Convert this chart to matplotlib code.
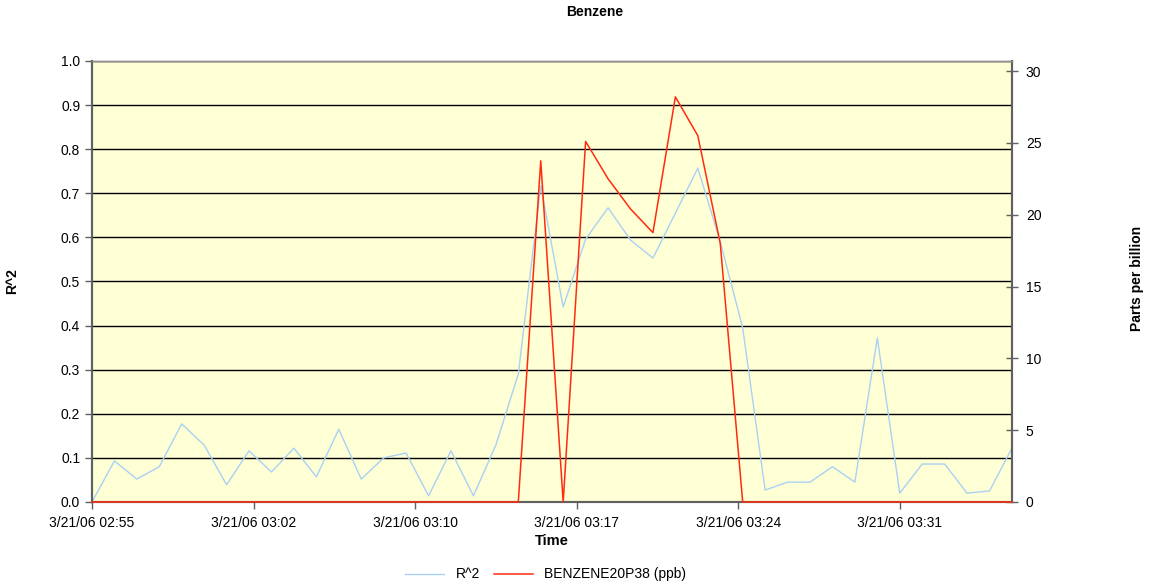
import matplotlib.pyplot as plt

plt.rcParams['font.family'] = ['Liberation Sans', 'DejaVu Sans']

# minutes after 02:55, one reading per minute
minutes = list(range(42))
tick_pos = [0, 7.2, 14.4, 21.6, 28.8, 36.0]
tick_labels = ['3/21/06 02:55', '3/21/06 03:02', '3/21/06 03:10',
               '3/21/06 03:17', '3/21/06 03:24', '3/21/06 03:31']

r2 = [0.0, 0.093, 0.052, 0.08, 0.177, 0.129, 0.039, 0.116, 0.068, 0.122,
      0.057, 0.165, 0.052, 0.1, 0.111, 0.014, 0.116, 0.014, 0.129, 0.29,
      0.717, 0.442, 0.596, 0.667, 0.594, 0.553, 0.655, 0.757, 0.59, 0.395,
      0.027, 0.045, 0.045, 0.08, 0.045, 0.372, 0.02, 0.086, 0.086, 0.02,
      0.025, 0.122]
benzene = [0.0] * 20 + [23.75, 0.0, 25.1, 22.5, 20.4, 18.75, 28.2, 25.5, 18.0] + [0.0] * 13

fig = plt.figure(figsize=(11.51, 5.88), dpi=100)
ax = fig.add_axes([0.0799, 0.1463, 0.7993, 0.75])
ax.set_facecolor('#FFFFD5')
ax2 = ax.twinx()

l1, = ax.plot(minutes, r2, color='#A9D0F5', lw=1, label='R^2')
l2, = ax2.plot(minutes, benzene, color='#FF2A10', lw=1.1, label='BENZENE20P38 (ppb)',
               clip_on=False, zorder=5)

ax.set_xlim(0, 41)
ax.set_ylim(0, 1.0)
ax2.set_ylim(0, 30.7)
ax.set_yticks([i / 10 for i in range(11)])
ax.set_yticklabels(['%.1f' % (i / 10) for i in range(11)])
ax2.set_yticks([0, 5, 10, 15, 20, 25, 30])
ax.set_xticks(tick_pos)
ax.set_xticklabels(tick_labels)

ax.grid(axis='y', color='black', lw=1)
ax.set_axisbelow(True)

for a in (ax, ax2):
    for s in a.spines.values():
        s.set_color('#606060')
        s.set_linewidth(1.5)
    a.spines['top'].set_color('#909090')
    a.spines['top'].set_linewidth(1)
    a.tick_params(labelsize=10, colors='black', length=5, width=1)
ax.tick_params(axis='both', color='#606060')
ax2.tick_params(axis='y', color='#606060', direction='inout', length=8, pad=6)
ax.tick_params(axis='x', pad=5)

fig.text(595 / 1151, 1 - 12 / 588, 'Benzene', fontsize=10, fontweight='bold',
         ha='center', va='center')
ax.set_xlabel('Time', fontsize=10.5, fontweight='bold', labelpad=3)
ax.set_ylabel('R^2', fontsize=10, fontweight='bold', labelpad=30)
fig.text(1137 / 1151, 1 - 278 / 588, 'Parts per billion', fontsize=10, fontweight='bold',
         rotation=90, ha='center', va='center')

fig.legend(handles=[l1, l2], loc='lower center', bbox_to_anchor=(0.474, -0.01),
           ncol=2, frameon=False, fontsize=10, handlelength=2.8, columnspacing=1.0)

fig.savefig('out.png', dpi=100)
